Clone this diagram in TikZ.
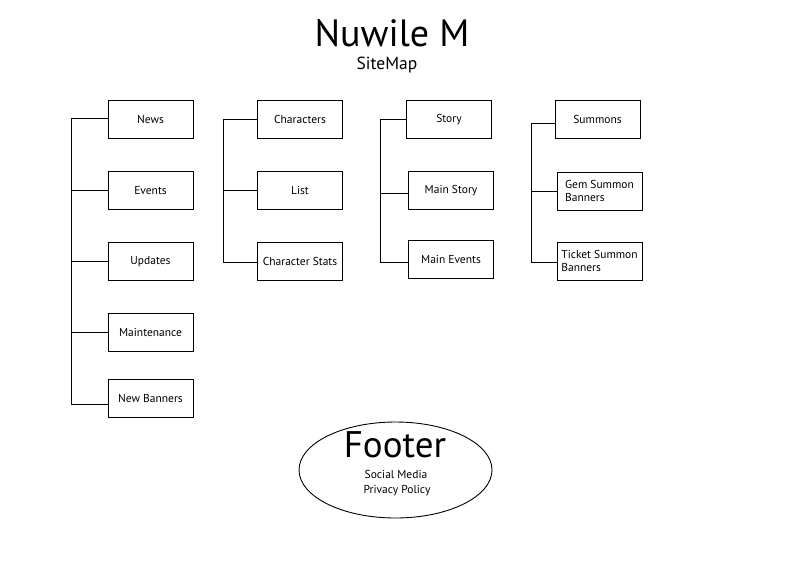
\documentclass[tikz,border=0pt]{standalone}
\usepackage{fontspec}
\setmainfont{PT Sans}
\usetikzlibrary{shapes.geometric}
\begin{document}
\begin{tikzpicture}[x=1pt,y=-1pt,
  pbox/.style={draw, line width=0.9pt, minimum width=85pt, minimum height=38pt, inner sep=1pt, font=\fontsize{11.5}{13}\selectfont},
  conn/.style={line width=0.9pt},
  small/.style={anchor=base, font=\fontsize{11.5}{15}\selectfont},
]
\fill[white] (0,0) rectangle (792,576);
\useasboundingbox (0,0) rectangle (792,576);
% titles
\node[anchor=base, font=\fontsize{38}{42}\selectfont] (title) at (392,46) {Nuwile M};
\node[anchor=base, font=\fontsize{17.5}{20}\selectfont] (sub) at (387,69) {SiteMap};
% column 1
\node[pbox] (news) at (150.5,119.5) {News};
\node[pbox] (events) at (150.5,190.5) {Events};
\node[pbox] (updates) at (150.5,261.5) {Updates};
\node[pbox] (maint) at (150.5,332.5) {Maintenance};
\node[pbox] (newb) at (150.5,398.5) {New Banners};
\coordinate (s1t) at (71,118);
\coordinate (s1b) at (71,404);
\draw[conn] (s1t) -- (s1b);
\draw[conn] (s1t) -- (news.west |- s1t);
\draw[conn] (events.west) -- (events.west -| s1t);
\draw[conn] (updates.west) -- (updates.west -| s1t);
\draw[conn] (maint.west) -- (maint.west -| s1t);
\draw[conn] (s1b) -- (newb.west |- s1b);
% column 2
\node[pbox] (chars) at (300,119.5) {Characters};
\node[pbox] (list) at (300,190.5) {List};
\node[pbox] (cstats) at (300,261.5) {Character Stats};
\coordinate (s2t) at (223,119);
\coordinate (s2b) at (223,262);
\draw[conn] (s2t) -- (s2b);
\draw[conn] (chars.west) -- (chars.west -| s2t);
\draw[conn] (list.west) -- (list.west -| s2t);
\draw[conn] (s2b) -- (cstats.west |- s2b);
% column 3
\node[pbox] (story) at (449,119.5) {Story};
\node[pbox] (mstory) at (451,190.5) {Main Story};
\node[pbox] (mevents) at (451,259.5) {Main Events};
\coordinate (s3t) at (380,119);
\coordinate (s3b) at (380,262);
\draw[conn] (s3t) -- (s3b);
\draw[conn] (story.west) -- (story.west -| s3t);
\draw[conn] (s3t |- 0,193) -- (mstory.west |- 0,193);
\draw[conn] (s3b) -- (mevents.west |- s3b);
% column 4
\node[pbox] (summ) at (597.5,119.5) {Summons};
\node[pbox, align=left] (gem) at (599.5,191) {Gem Summon\\Banners};
\node[pbox, align=left] (ticket) at (599.5,261) {Ticket Summon\\Banners};
\coordinate (s4t) at (531,123);
\coordinate (s4b) at (531,262);
\draw[conn] (s4t) -- (s4b);
\draw[conn] (s4t) -- (summ.west |- s4t);
\draw[conn] (gem.west) -- (gem.west -| s4t);
\draw[conn] (s4b) -- (ticket.west |- s4b);
% footer
\node[draw, ellipse, line width=0.9pt, minimum width=193pt, minimum height=96pt, inner sep=0pt] (footer) at (395.5,470) {};
\node[anchor=base, font=\fontsize{37}{40}\selectfont] (ftitle) at (395,457) {Footer};
\node[small] (fitems) at (396,478) {Social Media};
\node[small] (fitems2) at (397,493) {Privacy Policy};
\end{tikzpicture}
\end{document}
